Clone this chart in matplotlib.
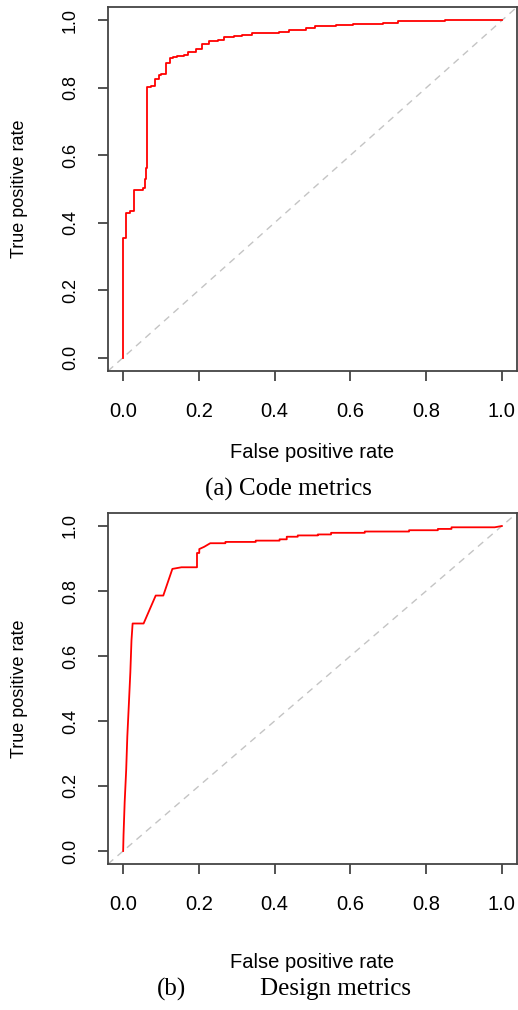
import matplotlib
matplotlib.use("Agg")
import matplotlib.pyplot as plt

# (a) code metrics: staircase, x = where the curve rises, y = level after the rise
code_fpr = [0.0, 0.0, 0.007, 0.018, 0.028, 0.053, 0.057, 0.061, 0.062, 0.073, 0.084,
            0.095, 0.101, 0.114, 0.123, 0.132, 0.142, 0.161, 0.170, 0.192, 0.209,
            0.227, 0.251, 0.266, 0.293, 0.315, 0.341, 0.361, 0.412, 0.438, 0.484,
            0.506, 0.563, 0.607, 0.686, 0.725, 0.849, 1.0]
code_tpr = [0.0, 0.356, 0.430, 0.436, 0.497, 0.502, 0.529, 0.561, 0.803, 0.806, 0.826,
            0.838, 0.841, 0.873, 0.888, 0.892, 0.895, 0.899, 0.906, 0.916, 0.931,
            0.940, 0.943, 0.951, 0.955, 0.958, 0.962, 0.963, 0.966, 0.972, 0.979,
            0.984, 0.988, 0.991, 0.994, 0.997, 1.0, 1.0]

# (b) design metrics: vertices of the ROC line
design_fpr = [0.0, 0.001, 0.004, 0.008, 0.011, 0.015, 0.019, 0.022, 0.025, 0.054,
              0.086, 0.106, 0.130, 0.154, 0.195, 0.195, 0.201, 0.201, 0.214, 0.230,
              0.27, 0.27, 0.35, 0.35, 0.413, 0.413, 0.432, 0.432, 0.461, 0.461,
              0.514, 0.514, 0.549, 0.549, 0.638, 0.638, 0.755, 0.755, 0.831, 0.831,
              0.867, 0.867, 0.981, 1.0]
design_tpr = [0.0, 0.049, 0.150, 0.249, 0.352, 0.450, 0.550, 0.648, 0.700, 0.700,
              0.786, 0.786, 0.868, 0.873, 0.873, 0.917, 0.917, 0.929, 0.936, 0.947,
              0.947, 0.951, 0.951, 0.955, 0.955, 0.959, 0.959, 0.967, 0.967, 0.971,
              0.971, 0.974, 0.974, 0.979, 0.979, 0.983, 0.983, 0.987, 0.987, 0.991,
              0.991, 0.996, 0.996, 1.0]

ticks = [0.0, 0.2, 0.4, 0.6, 0.8, 1.0]
tick_labels = ["0.0", "0.2", "0.4", "0.6", "0.8", "1.0"]

W, H = 518, 1010
fig = plt.figure(figsize=(W / 100, H / 100), dpi=100)
sans = "Liberation Sans"
serif = "Liberation Serif"
axcol = "#444444"


def style(ax, bottom_px, height_px, xlab_px):
    ax.set_xlim(-0.04, 1.04)
    ax.set_ylim(-0.04, 1.04)
    ax.axline((0, 0), slope=1, color="#c4c4c4", lw=1.0, ls=(0, (5, 4)), zorder=1)
    for s in ax.spines.values():
        s.set_color(axcol)
        s.set_linewidth(1.3)
    ax.set_xticks(ticks)
    ax.set_xticklabels(tick_labels, family=sans, fontsize=14.5)
    ax.set_yticks(ticks)
    ax.set_yticklabels(tick_labels, family=sans, fontsize=13, rotation=90, va="center")
    ax.tick_params(axis="x", length=7, width=1.3, color=axcol, pad=15)
    ax.tick_params(axis="y", length=7, width=1.3, color=axcol, pad=14)
    ax.set_xlabel("False positive rate", family=sans, fontsize=14.5, va="center")
    ax.xaxis.set_label_coords(0.5, (bottom_px - xlab_px) / height_px)
    ax.set_ylabel("True positive rate", family=sans, fontsize=13, va="center")
    ax.yaxis.set_label_coords((20 - 108) / 409, 0.5)


ax1 = fig.add_axes([108 / W, 1 - 371 / H, 409 / W, 364 / H])
ax1.plot(code_fpr, code_tpr, color="red", lw=1.3, drawstyle="steps-post", zorder=3)
style(ax1, 371, 364, 452)

ax2 = fig.add_axes([108 / W, 1 - 864 / H, 409 / W, 351 / H])
ax2.plot(design_fpr, design_tpr, color="red", lw=1.3, zorder=3)
style(ax2, 864, 351, 962)

fig.text(288 / W, 1 - 489 / H, "(a) Code metrics", family=serif, fontsize=18,
         ha="center", va="center")
fig.text(172 / W, 1 - 989 / H, "(b)", family=serif, fontsize=18, ha="center", va="center")
fig.text(335 / W, 1 - 989 / H, "Design metrics", family=serif, fontsize=18,
         ha="center", va="center")

fig.savefig("out.png", dpi=100)
